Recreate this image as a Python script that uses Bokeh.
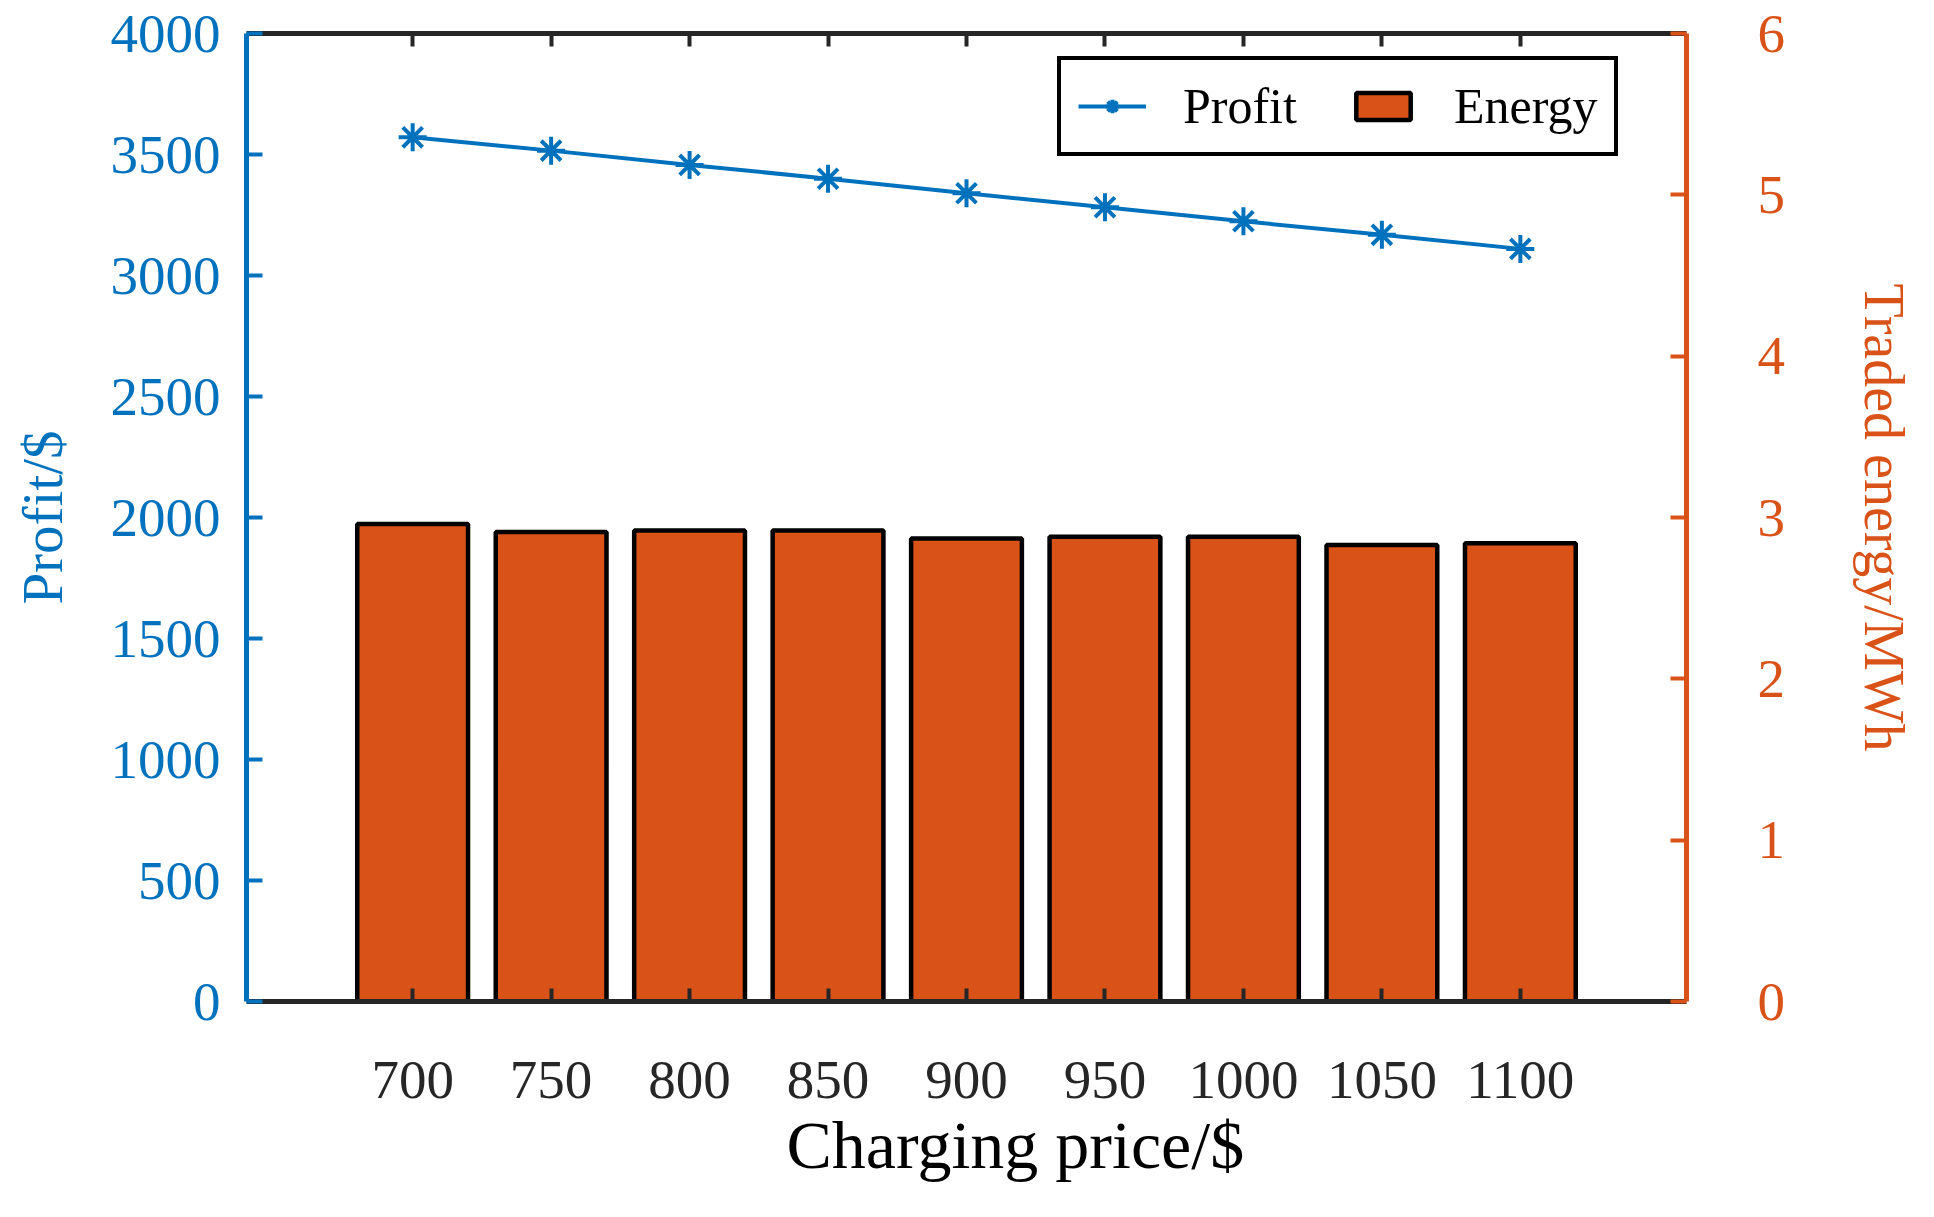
from bokeh.plotting import figure
from bokeh.models import Range1d, LinearAxis, FixedTicker, Legend, LegendItem, ColumnDataSource, Title
from bokeh.embed import file_html
from bokeh.resources import INLINE

# ---- data ----
prices = [700, 750, 800, 850, 900, 950, 1000, 1050, 1100]
profit = [3571, 3516, 3457, 3400, 3340, 3282, 3224, 3168, 3110]
energy = [2.96, 2.91, 2.92, 2.92, 2.87, 2.88, 2.88, 2.83, 2.84]
profit_ticks = [0, 500, 1000, 1500, 2000, 2500, 3000, 3500, 4000]
energy_ticks = [0, 1, 2, 3, 4, 5, 6]

BLUE = "#0072BD"
ORANGE = "#D95319"
DARK = "#262626"
FONT = "Liberation Serif"

src = ColumnDataSource(dict(price=prices, profit=profit, energy=energy))

p = figure(width=1918, height=1201,
           x_range=Range1d(640, 1160), y_range=Range1d(0, 4000),
           output_backend="svg", toolbar_location=None,
           min_border_left=246, min_border_right=231,
           min_border_top=33, min_border_bottom=200)
p.extra_y_ranges = {"energy": Range1d(0, 6)}
p.outline_line_color = None
p.xgrid.visible = False
p.ygrid.visible = False
p.background_fill_color = "white"
p.border_fill_color = "white"

# bars (right axis)
bars = p.vbar(x="price", top="energy", bottom=0, width=40, source=src,
              y_range_name="energy", fill_color=ORANGE, line_color="black",
              line_width=4.5)

# profit line (left axis)
ln = p.line(x="price", y="profit", source=src, line_color=BLUE, line_width=4)
mk = p.scatter(x="price", y="profit", source=src, marker="asterisk", size=28,
               line_color=BLUE, line_width=4)

# bottom axis
xa = p.xaxis[0]
xa.ticker = FixedTicker(ticks=prices)
xa.major_label_text_font = FONT
xa.major_label_text_font_size = "55px"
xa.major_label_text_color = DARK
xa.major_label_standoff = 60
xa.axis_line_color = DARK
xa.axis_line_width = 5
xa.major_tick_line_color = DARK
xa.major_tick_line_width = 4
xa.major_tick_in = 13
xa.major_tick_out = 0
xa.minor_tick_line_color = None

# x-axis title (placed as in the reference, slightly right of centre)
xtitle = Title(text="Charging price/$", align="left", offset=540,
               vertical_align="top", standoff=12,
               text_font=FONT, text_font_size="68px",
               text_font_style="normal", text_color="black")
p.add_layout(xtitle, "below")

# top axis (ticks only, no labels)
ta = LinearAxis(ticker=FixedTicker(ticks=prices))
ta.major_label_text_font_size = "1px"
ta.major_label_text_color = None
ta.major_label_standoff = 0
ta.axis_line_color = DARK
ta.axis_line_width = 5
ta.major_tick_line_color = DARK
ta.major_tick_line_width = 4
ta.major_tick_in = 13
ta.major_tick_out = 0
ta.minor_tick_line_color = None
p.add_layout(ta, "above")

# left axis
ya = p.yaxis[0]
ya.ticker = FixedTicker(ticks=profit_ticks)
ya.axis_label = "Profit/$"
ya.axis_label_text_font = FONT
ya.axis_label_text_font_size = "57px"
ya.axis_label_text_font_style = "normal"
ya.axis_label_text_color = BLUE
ya.axis_label_standoff = 34
ya.major_label_text_font = FONT
ya.major_label_text_font_size = "55px"
ya.major_label_text_color = BLUE
ya.major_label_standoff = 26
ya.axis_line_color = BLUE
ya.axis_line_width = 5
ya.major_tick_line_color = BLUE
ya.major_tick_line_width = 4
ya.major_tick_in = 16
ya.major_tick_out = 0
ya.minor_tick_line_color = None

# right axis
ra = LinearAxis(y_range_name="energy", ticker=FixedTicker(ticks=energy_ticks))
ra.axis_label = "Traded energy/MWh"
ra.axis_label_text_font = FONT
ra.axis_label_text_font_size = "56px"
ra.axis_label_text_font_style = "normal"
ra.axis_label_text_color = ORANGE
ra.axis_label_standoff = 65
ra.major_label_text_font = FONT
ra.major_label_text_font_size = "55px"
ra.major_label_text_color = ORANGE
ra.major_label_standoff = 71
ra.axis_line_color = ORANGE
ra.axis_line_width = 5
ra.major_tick_line_color = ORANGE
ra.major_tick_line_width = 4
ra.major_tick_in = 16
ra.major_tick_out = 0
ra.minor_tick_line_color = None
p.add_layout(ra, "right")

legend = Legend(items=[LegendItem(label="Profit", renderers=[ln, mk]),
                       LegendItem(label="Energy", renderers=[bars])],
                location=(811, 845), orientation="horizontal",
                margin=0, padding=17, spacing=52,
                glyph_width=68, glyph_height=34, label_standoff=37,
                label_text_font=FONT, label_text_font_size="50px",
                label_text_color="black",
                border_line_color="black", border_line_width=4,
                border_line_alpha=1.0,
                background_fill_color="white", background_fill_alpha=1.0)
p.add_layout(legend)

open("out.html", "w").write(file_html(p, INLINE))
